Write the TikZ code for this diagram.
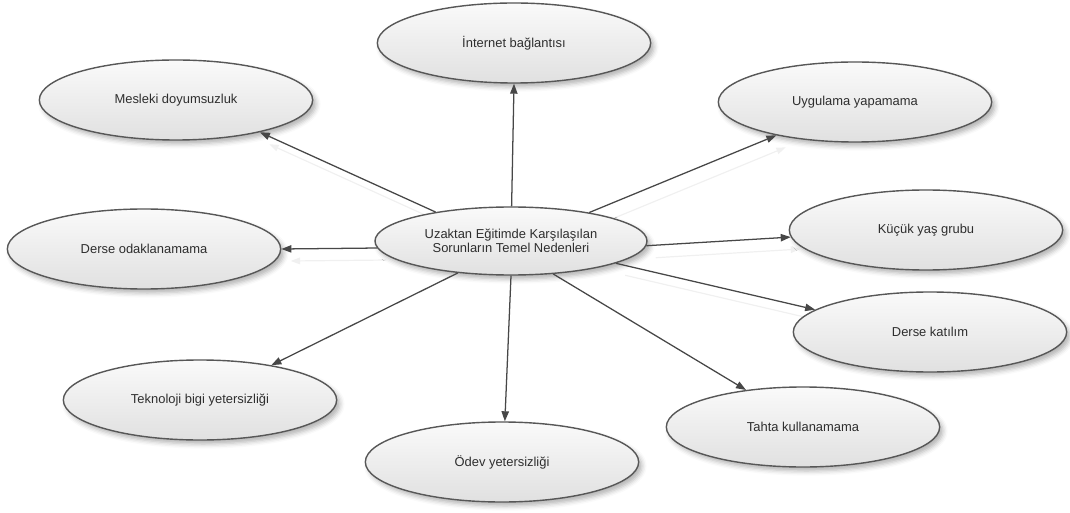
\documentclass[tikz,border=0pt]{standalone}
\usepackage{fontspec}
\setmainfont{Liberation Sans}
\usetikzlibrary{shapes.geometric,arrows.meta,shadows.blur}
\pgfdeclarelayer{bg}
\pgfsetlayers{bg,main}
\tikzset{
  cause/.style={ellipse, draw=black!66, line width=1.05pt, top color=black!2, bottom color=black!12,
    minimum width=205pt, minimum height=60pt, inner sep=0pt, text=black!82,
    font=\fontsize{9.7pt}{10.5pt}\selectfont, align=center,
    blur shadow={shadow xshift=2.5pt, shadow yshift=-3pt, shadow blur radius=3.5pt, shadow opacity=30}},
  core/.style={cause, minimum width=204pt, minimum height=51pt},
  link/.style={draw=black!72, line width=0.95pt, -{Triangle[length=7.5pt,width=5.5pt]}},
  ghost/.style={draw=black!6, line width=0.9pt, -{Triangle[length=7pt,width=5pt]}}
}
\begin{document}
\begin{tikzpicture}[x=0.75pt,y=-0.75pt]
\useasboundingbox (0,0) rectangle (1070,513);
\node[core] (C) at (511,241) {Uzaktan Eğitimde Karşılaşılan\\Sorunların Temel Nedenleri};
\node[cause] (I) at (514,43) {İnternet bağlantısı};
\node[cause] (M) at (176,100) {Mesleki doyumsuzluk};
\node[cause] (U) at (855,102) {Uygulama yapamama};
\node[cause] (K) at (926,230) {Küçük yaş grubu};
\node[cause] (DK) at (930,332) {Derse katılım};
\node[cause] (T) at (803,427) {Tahta kullanamama};
\node[cause] (O) at (502,462) {Ödev yetersizliği};
\node[cause] (Te) at (200,400) {Teknoloji bigi yetersizliği};
\node[cause] (D) at (144,249) {Derse odaklanamama};

\begin{pgfonlayer}{bg}
\begin{scope}[transform canvas={xshift=7pt,yshift=-9pt}]
\draw[ghost] (C.159) -- (M.-21);
\draw[ghost] (C.183) -- (D.0);
\draw[ghost] (C.20) -- (U.-157);
\draw[ghost] (C.-2) -- (K.183);
\draw[ghost] (C.-12) -- (DK.169);
\end{scope}
\end{pgfonlayer}

\draw[link] (C.159) -- (M.-21);
\draw[link] (C.183) -- (D.0);
\draw[link] (C.89) -- (I.-90);
\draw[link] (C.20) -- (U.-157);
\draw[link] (C.-2) -- (K.183);
\draw[link] (C.-12) -- (DK.169);
\draw[link] (C.-38) -- (T.147);
\draw[link] (C.-90) -- (O.86);
\draw[link] (C.-149) -- (Te.26);
\end{tikzpicture}
\end{document}
